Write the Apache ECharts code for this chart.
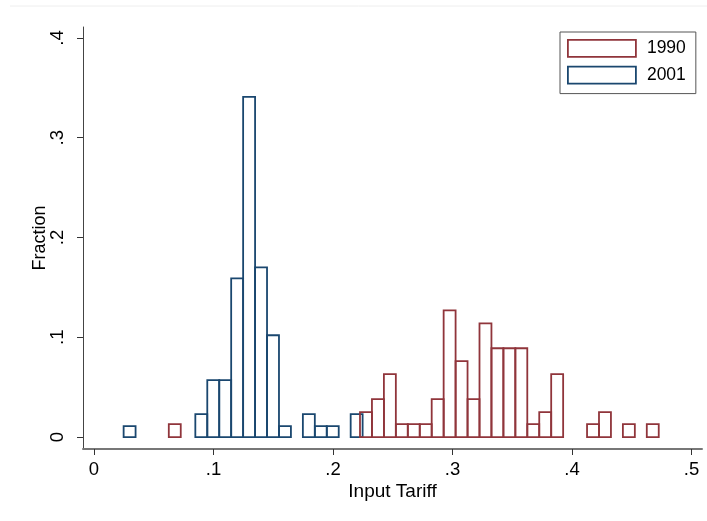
<!DOCTYPE html>
<html lang="en">
<head>
    <meta charset="UTF-8">
    <title>Input Tariff histogram</title>
    <script src="https://cdn.jsdelivr.net/npm/echarts@6/dist/echarts.min.js"></script>
    <style>
        html, body {
            margin: 0;
            padding: 0;
            background: #fff;
        }
        #chart {
            width: 707px;
            height: 521px;
        }
    </style>
</head>
<body>
<div id="chart"></div>
<script>
    // histogram bins, width 0.01, left edges
    const binWidth = 0.01;
    const starts1990 = [0.0626, 0.2226, 0.2326, 0.2426, 0.2526, 0.2626, 0.2726, 0.2826, 0.2926, 0.3026, 0.3126,
        0.3226, 0.3326, 0.3426, 0.3526, 0.3626, 0.3726, 0.3826, 0.4126, 0.4226, 0.4426, 0.4626];
    const fractions1990 = [0.013, 0.025, 0.038, 0.063, 0.013, 0.013, 0.013, 0.038, 0.127, 0.076, 0.038,
        0.114, 0.089, 0.089, 0.089, 0.013, 0.025, 0.063, 0.013, 0.025, 0.013, 0.013];
    const starts2001 = [0.0248, 0.0848, 0.0948, 0.1048, 0.1148, 0.1248, 0.1348, 0.1448, 0.1548,
        0.1748, 0.1848, 0.1948, 0.2148];
    const fractions2001 = [0.011, 0.023, 0.057, 0.057, 0.159, 0.341, 0.170, 0.102, 0.011,
        0.023, 0.011, 0.011, 0.023];

    const xTickValues = [0, 0.1, 0.2, 0.3, 0.4, 0.5];
    const xTickLabels = ['0', '.1', '.2', '.3', '.4', '.5'];
    const yTickValues = [0, 0.1, 0.2, 0.3, 0.4];
    const yTickLabels = ['0', '.1', '.2', '.3', '.4'];

    const RED = '#90353b';
    const BLUE = '#1a476f';
    const FONT = '"Liberation Sans", Arial, sans-serif';

    function toBins(starts, fracs) {
        return starts.map(function (s, i) {
            return [s, s + binWidth, fracs[i]];
        });
    }

    function labelOf(values, labels) {
        return function (v) {
            for (let i = 0; i < values.length; i++) {
                if (Math.abs(values[i] - v) < 1e-9) return labels[i];
            }
            return '';
        };
    }

    function histRenderer(color) {
        return function (params, api) {
            const p0 = api.coord([api.value(0), api.value(2)]);
            const p1 = api.coord([api.value(1), 0]);
            return {
                type: 'rect',
                shape: {x: p0[0], y: p0[1], width: p1[0] - p0[0], height: p1[1] - p0[1]},
                style: {fill: 'none', stroke: color, lineWidth: 1.8}
            };
        };
    }

    const myChart = echarts.init(document.getElementById('chart'), null, {renderer: 'canvas'});
    const option = {
        animation: false,
        textStyle: {fontFamily: FONT},
        graphic: [{
            type: 'line',
            shape: {x1: 10, y1: 6, x2: 707, y2: 6},
            style: {stroke: '#eeeeee', lineWidth: 1}
        }],
        grid: {left: 83, top: 27, width: 619, height: 422},
        legend: {
            left: 560,
            top: 32,
            orient: 'vertical',
            padding: [7, 10, 9, 7],
            itemGap: 8,
            itemWidth: 68,
            itemHeight: 17,
            borderColor: '#555',
            borderWidth: 1,
            textStyle: {fontSize: 17.5, color: '#000', lineHeight: 17, padding: [0, 0, 0, 6]},
            data: [
                {name: '1990', icon: 'rect', itemStyle: {color: '#fff', borderColor: RED, borderWidth: 1.8}},
                {name: '2001', icon: 'rect', itemStyle: {color: '#fff', borderColor: BLUE, borderWidth: 1.8}}
            ]
        },
        xAxis: {
            type: 'value',
            min: -0.0092,
            max: 0.5088,
            name: 'Input Tariff',
            nameLocation: 'middle',
            nameGap: 33,
            nameMoveOverlap: false,
            nameTextStyle: {fontSize: 19, color: '#000'},
            splitLine: {show: false},
            axisLine: {onZero: false, lineStyle: {color: '#777', width: 2}},
            axisTick: {show: true, customValues: xTickValues, length: 6, lineStyle: {color: '#333'}},
            axisLabel: {
                customValues: xTickValues,
                formatter: labelOf(xTickValues, xTickLabels),
                fontSize: 18.5,
                color: '#000',
                margin: 11
            }
        },
        yAxis: {
            type: 'value',
            min: -0.012,
            max: 0.411,
            name: 'Fraction',
            nameLocation: 'middle',
            nameRotate: 90,
            nameGap: 34,
            nameMoveOverlap: false,
            nameTextStyle: {fontSize: 18, color: '#000'},
            splitLine: {show: false},
            axisLine: {show: true, onZero: false, lineStyle: {color: '#444', width: 1}},
            axisTick: {show: true, customValues: yTickValues, length: 6, lineStyle: {color: '#333'}},
            axisLabel: {
                customValues: yTickValues,
                formatter: labelOf(yTickValues, yTickLabels),
                rotate: 90,
                fontSize: 18.5,
                color: '#000',
                margin: 16
            }
        },
        series: [{
            name: '2001',
            type: 'custom',
            z: 2,
            renderItem: histRenderer(BLUE),
            encode: {x: [0, 1], y: 2},
            itemStyle: {color: BLUE},
            data: toBins(starts2001, fractions2001)
        }, {
            name: '1990',
            type: 'custom',
            z: 3,
            renderItem: histRenderer(RED),
            encode: {x: [0, 1], y: 2},
            itemStyle: {color: RED},
            data: toBins(starts1990, fractions1990)
        }]
    };
    myChart.setOption(option);
</script>
</body>
</html>
